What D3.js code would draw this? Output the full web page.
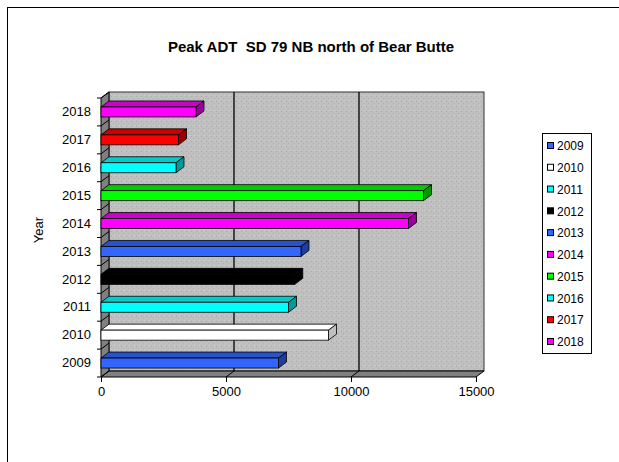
<!DOCTYPE html>
<html>
<head>
<meta charset="utf-8">
<script src="https://cdn.jsdelivr.net/npm/d3@7"></script>
<style>
  body { margin: 0; background: #fff; }
  text { font-family: "Liberation Sans", Arial, sans-serif; }
</style>
</head>
<body>
<div id="chart"></div>
<script>
// data
var years = ["2009", "2010", "2011", "2012", "2013", "2014", "2015", "2016", "2017", "2018"];
var adt = [7100, 9100, 7500, 7750, 8000, 12300, 12900, 3000, 3100, 3800];
var barColors = ["#3366ff", "#ffffff", "#00ffff", "#000000", "#3366ff", "#ff00ff", "#00ff00", "#00ffff", "#ff0000", "#ff00ff"];
var xTicks = [0, 5000, 10000, 15000];

var width = 619, height = 462;
var dx = 8, dy = 6; // 3d depth offset

var svg = d3.select("#chart").append("svg")
  .attr("width", width)
  .attr("height", height);

// speckled wall texture
var defs = svg.append("defs");
var pat = defs.append("pattern")
  .attr("id", "speckle")
  .attr("width", 5).attr("height", 5)
  .attr("patternUnits", "userSpaceOnUse");
pat.append("rect").attr("width", 5).attr("height", 5).attr("fill", "#c0c0c0");
pat.append("rect").attr("x", 1).attr("y", 1).attr("width", 1).attr("height", 1).attr("fill", "#a8a8a8");
pat.append("rect").attr("x", 3).attr("y", 3).attr("width", 1).attr("height", 1).attr("fill", "#b0b0b0");
pat.append("rect").attr("x", 4).attr("y", 0).attr("width", 1).attr("height", 1).attr("fill", "#d0d0d0");

// outer frame
svg.append("rect")
  .attr("x", 7.5).attr("y", 7.5)
  .attr("width", 700).attr("height", 500)
  .attr("fill", "none").attr("stroke", "#000");

svg.append("text")
  .attr("x", 311).attr("y", 52)
  .attr("text-anchor", "middle")
  .attr("font-size", 15).attr("font-weight", "bold")
  .style("white-space", "pre")
  .text("Peak ADT  SD 79 NB north of Bear Butte");

var x = d3.scaleLinear().domain([0, 15000]).range([101, 476]);
var y = d3.scaleBand().domain(years.slice().reverse()).range([98, 377]);

var x0 = x(0), x1 = x(15000), yTop = y.range()[0], yBot = y.range()[1];

function poly(pts) {
  return "M" + pts.map(function (p) { return p[0] + "," + p[1]; }).join("L") + "Z";
}

// back wall
svg.append("rect")
  .attr("x", x0 + dx).attr("y", yTop - dy)
  .attr("width", x1 - x0).attr("height", yBot - yTop)
  .attr("fill", "url(#speckle)")
  .attr("stroke", "#333").attr("stroke-width", 1);

// left wall
svg.append("path")
  .attr("d", poly([[x0, yBot], [x0, yTop], [x0 + dx, yTop - dy], [x0 + dx, yBot - dy]]))
  .attr("fill", "#808080").attr("stroke", "#000");

// floor
svg.append("path")
  .attr("d", poly([[x0, yBot], [x1, yBot], [x1 + dx, yBot - dy], [x0 + dx, yBot - dy]]))
  .attr("fill", "#808080").attr("stroke", "#000");

// gridlines on back wall and floor
xTicks.slice(1, 3).forEach(function (t) {
  svg.append("line")
    .attr("x1", x(t) + dx).attr("x2", x(t) + dx)
    .attr("y1", yTop - dy).attr("y2", yBot - dy)
    .attr("stroke", "#000").attr("stroke-width", 1.3);
  svg.append("line")
    .attr("x1", x(t)).attr("y1", yBot)
    .attr("x2", x(t) + dx).attr("y2", yBot - dy)
    .attr("stroke", "#000");
});

// category boundaries on the left wall
var bounds = years.map(function (yr) { return y(yr); }).concat([yBot]);
bounds.forEach(function (b) {
  svg.append("line")
    .attr("x1", x0 - 4).attr("y1", b)
    .attr("x2", x0).attr("y2", b)
    .attr("stroke", "#000");
  svg.append("line")
    .attr("x1", x0).attr("y1", b)
    .attr("x2", x0 + dx).attr("y2", b - dy)
    .attr("stroke", "#000");
});

// bars
var barH = 10;
var bars = svg.selectAll(".bar")
  .data(years.map(function (yr, i) { return { year: yr, value: adt[i], color: barColors[i] }; }))
  .enter().append("g")
  .attr("class", "bar");

function shade(c, k) {
  var col = d3.rgb(c);
  return d3.rgb(col.r * k, col.g * k, col.b * k).toString();
}

bars.append("path") // top face
  .attr("d", function (d) {
    var yf = y(d.year) + (y.bandwidth() - barH) / 2, xe = x(d.value);
    return poly([[x0, yf], [xe, yf], [xe + dx, yf - dy], [x0 + dx, yf - dy]]);
  })
  .attr("fill", function (d) { return d.color === "#ffffff" ? "#ffffff" : shade(d.color, 0.8); })
  .attr("stroke", "#000").attr("stroke-width", 0.8);

bars.append("path") // end face
  .attr("d", function (d) {
    var yf = y(d.year) + (y.bandwidth() - barH) / 2, xe = x(d.value);
    return poly([[xe, yf], [xe + dx, yf - dy], [xe + dx, yf - dy + barH], [xe, yf + barH]]);
  })
  .attr("fill", function (d) { return d.color === "#ffffff" ? "#c0c0c0" : shade(d.color, 0.6); })
  .attr("stroke", "#000").attr("stroke-width", 0.8);

bars.append("rect") // front face
  .attr("x", x0)
  .attr("y", function (d) { return y(d.year) + (y.bandwidth() - barH) / 2; })
  .attr("width", function (d) { return x(d.value) - x0; })
  .attr("height", barH)
  .attr("fill", function (d) { return d.color; })
  .attr("stroke", "#000").attr("stroke-width", 0.8);

// x axis
var xAxis = svg.append("g")
  .attr("transform", "translate(0," + yBot + ")")
  .call(d3.axisBottom(x).tickValues(xTicks).tickSize(5).tickSizeOuter(0).tickFormat(d3.format("d")));
xAxis.select(".domain").remove();
xAxis.selectAll("text").attr("font-size", 13).attr("fill", "#000").attr("dy", "0.85em")
  .style("font-family", "'Liberation Sans', Arial, sans-serif");

// y axis labels
var yAxis = svg.append("g")
  .attr("transform", "translate(" + (x0 - 8) + ",0)")
  .call(d3.axisLeft(y).tickSize(0));
yAxis.select(".domain").remove();
yAxis.selectAll("text").attr("font-size", 13).attr("fill", "#000").attr("x", -2)
  .style("font-family", "'Liberation Sans', Arial, sans-serif");

svg.append("text")
  .attr("transform", "translate(43,230) rotate(-90)")
  .attr("text-anchor", "middle")
  .attr("font-size", 13)
  .text("Year");

// legend
var legend = svg.append("g");
legend.append("rect")
  .attr("x", 542.5).attr("y", 133.5)
  .attr("width", 49).attr("height", 220)
  .attr("fill", "#fff").attr("stroke", "#000");

var ly = d3.scalePoint().domain(years).range([145, 341]);
var items = legend.selectAll(".item")
  .data(years.map(function (yr, i) { return { year: yr, color: barColors[i] }; }))
  .enter().append("g")
  .attr("transform", function (d) { return "translate(547," + ly(d.year) + ")"; });
items.append("rect")
  .attr("x", 0.5).attr("y", -2.5)
  .attr("width", 6).attr("height", 6)
  .attr("fill", function (d) { return d.color; })
  .attr("stroke", "#000");
items.append("text")
  .attr("x", 10).attr("y", 1).attr("dy", "0.35em")
  .attr("font-size", 12)
  .text(function (d) { return d.year; });
</script>
</body>
</html>
